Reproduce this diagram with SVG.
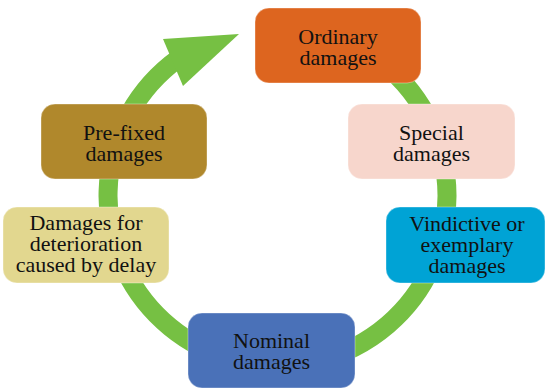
<svg xmlns="http://www.w3.org/2000/svg" width="546" height="388" viewBox="0 0 546 388">
<style>
.box{stroke:#ffffff;stroke-opacity:0.35;stroke-width:1}
.t{font-family:"Liberation Serif","Times New Roman",serif;font-size:22px;fill:#111;text-anchor:middle}
</style>
<rect width="546" height="388" fill="#fff"/>
<g id="connectors">
<path d="M306.9,29.1 A169.5,169.5 0 1 1 177.9,58.9" fill="none" stroke="#76C043" stroke-width="19"/>
<polygon points="163,39 239,34 183,86" fill="#76C043"/>
</g>
<g id="ordinary">
<rect class="box" x="255" y="8" width="166" height="75" rx="14" fill="#DD651F"/>
<text class="t" x="338" y="44">Ordinary</text>
<text class="t" x="338" y="65">damages</text>
</g>
<g id="special">
<rect class="box" x="348" y="104" width="167" height="75" rx="14" fill="#F7D6CC"/>
<text class="t" x="431.5" y="139.5">Special</text>
<text class="t" x="431.5" y="160.5">damages</text>
</g>
<g id="vindictive">
<rect class="box" x="386" y="207" width="159" height="76" rx="14" fill="#00A3D5"/>
<text class="t" x="467" y="230.5">Vindictive or</text>
<text class="t" x="467" y="251.5">exemplary</text>
<text class="t" x="467" y="272.5">damages</text>
</g>
<g id="nominal">
<rect class="box" x="188" y="313" width="167" height="75" rx="14" fill="#4A71B8"/>
<text class="t" x="271.5" y="348">Nominal</text>
<text class="t" x="271.5" y="369">damages</text>
</g>
<g id="deterioration">
<rect class="box" x="3" y="207" width="166" height="76" rx="14" fill="#E2D78F"/>
<text class="t" x="86" y="230">Damages for</text>
<text class="t" x="86" y="251">deterioration</text>
<text class="t" x="86" y="272">caused by delay</text>
</g>
<g id="prefixed">
<rect class="box" x="41" y="104" width="166" height="75" rx="14" fill="#B0882C"/>
<text class="t" x="124" y="139.5">Pre-fixed</text>
<text class="t" x="124" y="160.5">damages</text>
</g>
</svg>
